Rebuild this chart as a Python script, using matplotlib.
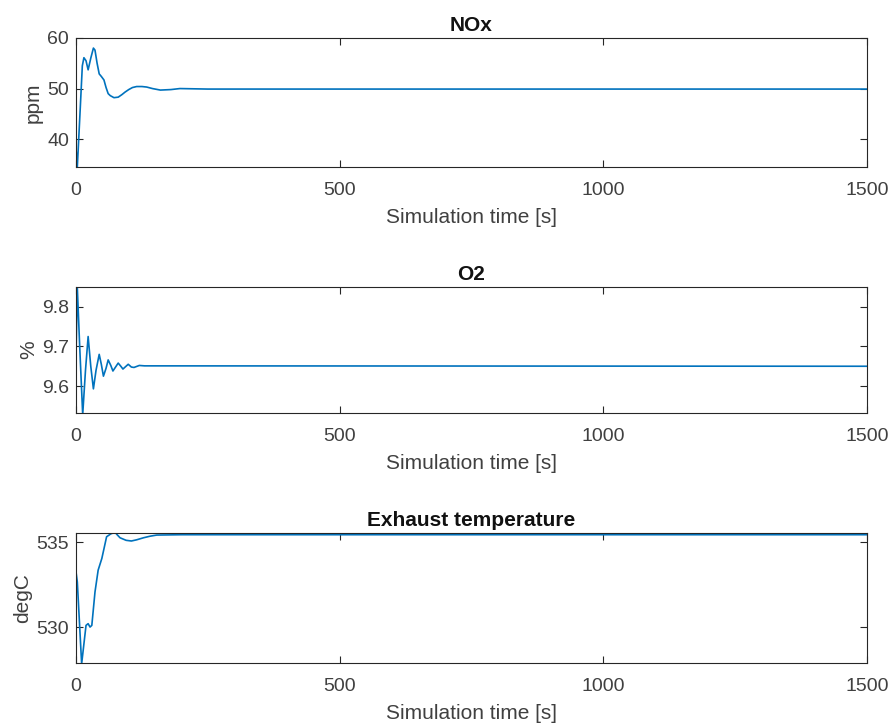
import matplotlib.pyplot as plt

plt.rcParams['font.family'] = ['Liberation Sans', 'DejaVu Sans']

# NOx [ppm]
t_nox = [0, 2.5, 8, 12, 15, 19, 23, 28, 33, 36, 40, 44, 48, 53, 57, 61, 65, 72, 80, 87, 93, 100, 107, 115, 125, 134, 145, 160, 180, 197, 250, 1500]
nox = [38.2, 34.5, 46, 54.5, 56.1, 55.5, 53.7, 56, 58, 57.6, 55, 52.9, 52.4, 51.7, 50.2, 49.0, 48.6, 48.2, 48.3, 48.8, 49.3, 49.8, 50.2, 50.4, 50.4, 50.3, 50.0, 49.7, 49.8, 50.0, 49.9, 49.9]

# O2 [%]
t_o2 = [0, 2.5, 7, 12.7, 18, 23, 28, 33, 38, 44, 48, 52, 57, 61, 66, 70, 75, 80, 85, 89, 94, 99, 105, 110, 120, 130, 1500]
o2 = [9.676, 9.848, 9.7, 9.528, 9.64, 9.725, 9.65, 9.593, 9.64, 9.68, 9.655, 9.625, 9.645, 9.666, 9.652, 9.638, 9.648, 9.658, 9.650, 9.643, 9.649, 9.655, 9.648, 9.647, 9.652, 9.651, 9.65]

# exhaust temperature [degC]
t_ex = [0, 2.5, 10.7, 19, 23, 26.6, 30, 36, 42, 49, 58, 66, 74, 78, 83.5, 95, 105, 115, 128, 140, 153, 200, 1500]
ex = [533.26, 532.66, 527.83, 530.1, 530.2, 530.0, 530.1, 532.07, 533.36, 534.05, 535.33, 535.5, 535.6, 535.45, 535.27, 535.12, 535.08, 535.15, 535.27, 535.36, 535.43, 535.45, 535.45]

titles = ['NOx', 'O2', 'Exhaust temperature']
ylabels = ['ppm', '%', 'degC']
yticks = [[40, 50, 60], [9.6, 9.7, 9.8], [530, 535]]
ylims = [(34.5, 60), (9.532, 9.85), (527.88, 535.55)]
xticks = [0, 500, 1000, 1500]

series = [(t_nox, nox), (t_o2, o2), (t_ex, ex)]
boxes = [(0.770, 0.9477), (0.4311, 0.6047), (0.0868, 0.2658)]

blue = (0, 0.447, 0.741)
grey = '#404040'

fig = plt.figure(figsize=(8.91, 7.26), dpi=100)
for i in range(3):
    b, t = boxes[i]
    ax = fig.add_axes([0.0853, b, 0.8878, t - b])
    ax.plot(series[i][0], series[i][1], color=blue, lw=1.2)
    ax.set_xlim(0, 1500)
    ax.set_ylim(*ylims[i])
    ax.set_xticks(xticks)
    ax.set_yticks(yticks[i])
    ax.tick_params(direction='in', top=True, right=True, labelsize=14,
                   colors='#262626', labelcolor=grey, length=5, width=0.8, pad=5)
    ax.tick_params(axis='x', pad=11)
    for s in ax.spines.values():
        s.set_color('#262626')
        s.set_linewidth(0.8)
    ax.set_title(titles[i], fontsize=15, fontweight='bold', color='#111111', pad=5)
    ax.set_xlabel('Simulation time [s]', fontsize=15, color=grey, labelpad=6)
    ax.set_ylabel(ylabels[i], fontsize=15, color=grey, labelpad=3)

fig.savefig('out.png', dpi=100)
